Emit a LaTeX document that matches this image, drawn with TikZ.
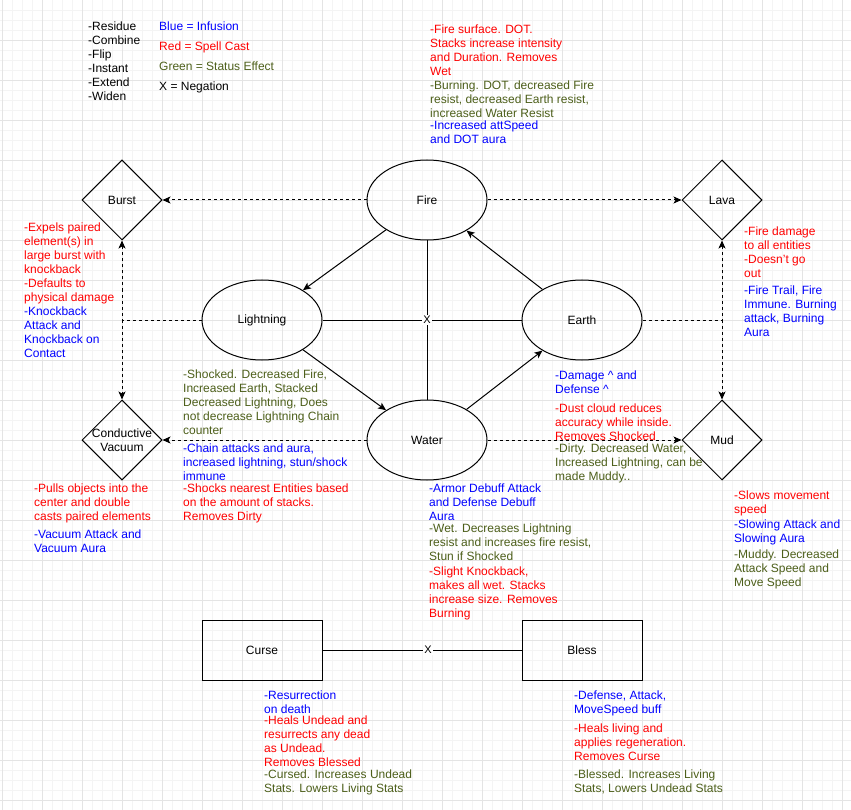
\documentclass[tikz,border=0pt]{standalone}
\usepackage{fontspec}
\setmainfont{Liberation Sans}
\usetikzlibrary{shapes.geometric,arrows.meta}
\definecolor{infblue}{HTML}{0000FF}
\definecolor{castred}{HTML}{FF0000}
\definecolor{statgreen}{HTML}{4D5F1A}
\definecolor{gridminor}{HTML}{F4F4F4}
\definecolor{gridmajor}{HTML}{E4E4E4}
\begin{document}
\begin{tikzpicture}[x=1pt,y=-1pt,
  every node/.style={font=\fontsize{12}{14}\selectfont},
  txt/.style={anchor=north west, align=left, inner sep=0pt, yshift=3.5pt},
  blk/.style={txt, text=black},
  blu/.style={txt, text=infblue},
  rd/.style={txt, text=castred},
  grn/.style={txt, text=statgreen},
  elem/.style={draw, ellipse, line width=1pt, minimum width=120pt, minimum height=80pt, inner sep=0pt},
  dia/.style={draw, diamond, line width=1pt, minimum width=80pt, minimum height=80pt, inner sep=0pt},
  boxnode/.style={draw, rectangle, line width=1pt, minimum width=120pt, minimum height=60pt, inner sep=0pt},
  lbl/.style={inner sep=0pt, align=center},
  conn/.style={line width=1pt},
  dconn/.style={line width=1pt, dash pattern=on 3pt off 3pt},
  tip/.style={-{Stealth[length=8pt,width=7pt,inset=2pt]}},
  neg/.style={fill=white, inner sep=1pt, font=\fontsize{11}{12}\selectfont}
]
\useasboundingbox (0,0) rectangle (851,810);
\fill[white] (0,0) rectangle (851,810);
% grid
\foreach \gx in {2,12,...,851} \draw[gridminor, line width=0.6pt] (\gx,0) -- (\gx,810);
\foreach \gy in {10,20,...,810} \draw[gridminor, line width=0.6pt] (0,\gy) -- (851,\gy);
\foreach \gx in {2,42,...,851} \draw[gridmajor, line width=0.8pt] (\gx,0) -- (\gx,810);
\foreach \gy in {40,80,...,810} \draw[gridmajor, line width=0.8pt] (0,\gy) -- (851,\gy);

% legend
\node[blk] (legl) at (88,25) {-Residue\\-Combine\\-Flip\\-Instant\\-Extend\\-Widen};
\node[blu] (legb) at (159,25) {Blue = Infusion};
\node[rd] (legr) at (159,45) {Red = Spell Cast};
\node[grn] (legg) at (159,65) {Green = Status Effect};
\node[blk] (legx) at (159,85) {X = Negation};

% main nodes
\node[elem] (fire) at (427,200) {Fire};
\node[elem] (lightning) at (262,320) {Lightning};
\node[elem] (earth) at (582,320) {Earth};
\node[elem] (water) at (427,440) {Water};
\node[dia] (burst) at (122,200) {};
\node[lbl] (burstl) at (burst) {Burst};
\node[dia] (lava) at (722,200) {};
\node[lbl] (laval) at (lava) {Lava};
\node[dia] (vacuum) at (122,440) {};
\node[lbl] (vacuuml) at (vacuum) {Conductive\\Vacuum};
\node[dia] (mud) at (722,440) {};
\node[lbl] (mudl) at (mud) {Mud};
\node[boxnode] (curse) at (262,650) {Curse};
\node[boxnode] (bless) at (582,650) {Bless};

% coordinates for junctions
\coordinate (jl) at (122,320);
\coordinate (jr) at (722,320);

% connectors
\draw[conn, tip] (fire) -- (lightning);
\draw[conn, tip] (earth) -- (fire);
\draw[conn, tip] (lightning) -- (water);
\draw[conn, tip] (water) -- (earth);
\draw[conn] (fire.south) -- (water.north);
\draw[conn] (lightning.east) -- (earth.west);
\node[neg] (xmid) at (fire |- lightning) {X};
\draw[dconn, tip] (fire.west) -- (burst.east);
\draw[dconn, tip] (fire.east) -- (lava.west);
\draw[dconn, tip] (lightning.west) -- (jl) -- (burst.south);
\draw[dconn, tip] (jl) -- (vacuum.north);
\draw[dconn, tip] (earth.east) -- (jr) -- (lava.south);
\draw[dconn, tip] (jr) -- (mud.north);
\draw[dconn, tip] (water.west) -- (vacuum.east);
\draw[dconn, tip] (water.east) -- (mud.west);
\draw[conn] (curse.east) -- node[neg, pos=0.53] (xbot) {X} (bless.west);

% Fire texts
\node[rd] (firer) at (430,28) {-Fire surface. DOT.\\Stacks increase intensity\\and Duration. Removes\\Wet};
\node[grn] (fireg) at (430,84) {-Burning. DOT, decreased Fire\\resist, decreased Earth resist,\\increased Water Resist};
\node[blu] (fireb) at (430,124) {-Increased attSpeed\\and DOT aura};

% Burst texts
\node[rd] (burstr) at (24,226) {-Expels paired\\element(s) in\\large burst with\\knockback\\-Defaults to\\physical damage};
\node[blu] (burstb) at (24,310) {-Knockback\\Attack and\\Knockback on\\Contact};

% Lava texts
\node[rd] (lavar) at (744,230) {-Fire damage\\to all entities\\-Doesn't go\\out};
\node[blu] (lavab) at (744,289) {-Fire Trail, Fire\\Immune. Burning\\attack, Burning\\Aura};

% Lightning texts
\node[grn] (lightg) at (183,373) {-Shocked. Decreased Fire,\\Increased Earth, Stacked\\Decreased Lightning, Does\\not decrease Lightning Chain\\counter};
\node[blu] (lightb) at (183,447) {-Chain attacks and aura,\\increased lightning, stun/shock\\immune};
\node[rd] (lightr) at (183,487) {-Shocks nearest Entities based\\on the amount of stacks.\\Removes Dirty};

% Earth texts
\node[blu] (earthb) at (555,374) {-Damage \textasciicircum{} and\\Defense \textasciicircum};
\node[rd] (earthr) at (555,407) {-Dust cloud reduces\\accuracy while inside.\\Removes Shocked};
\node[grn] (earthg) at (555,447) {-Dirty. Decreased Water,\\Increased Lightning, can be\\made Muddy..};

% Vacuum texts
\node[rd] (vacr) at (34,487) {-Pulls objects into the\\center and double\\casts paired elements};
\node[blu] (vacb) at (34,533) {-Vacuum Attack and\\Vacuum Aura};

% Water texts
\node[blu] (waterb) at (429,487) {-Armor Debuff Attack\\and Defense Debuff\\Aura};
\node[grn] (waterg) at (429,527) {-Wet. Decreases Lightning\\resist and increases fire resist,\\Stun if Shocked};
\node[rd] (waterr) at (429,570) {-Slight Knockback,\\makes all wet. Stacks\\increase size. Removes\\Burning};

% Mud texts
\node[rd] (mudr) at (734,494) {-Slows movement\\speed};
\node[blu] (mudb) at (734,523) {-Slowing Attack and\\Slowing Aura};
\node[grn] (mudg) at (734,553) {-Muddy. Decreased\\Attack Speed and\\Move Speed};

% Curse texts
\node[blu] (curseb) at (264,694) {-Resurrection\\on death};
\node[rd] (curser) at (264,719) {-Heals Undead and\\resurrects any dead\\as Undead.\\Removes Blessed};
\node[grn] (curseg) at (264,773) {-Cursed. Increases Undead\\Stats. Lowers Living Stats};

% Bless texts
\node[blu] (blessb) at (574,694) {-Defense, Attack,\\MoveSpeed buff};
\node[rd] (blessr) at (574,727) {-Heals living and\\applies regeneration.\\Removes Curse};
\node[grn] (blessg) at (574,773) {-Blessed. Increases Living\\Stats, Lowers Undead Stats};
\end{tikzpicture}
\end{document}
